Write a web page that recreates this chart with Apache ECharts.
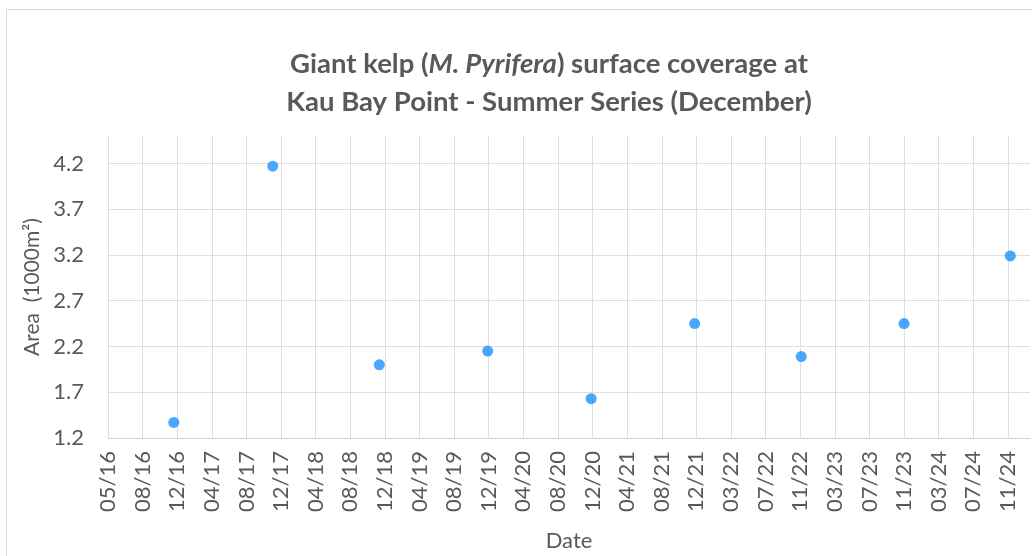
<!DOCTYPE html>
<html>
<head>
<meta charset="utf-8">
<title>Giant kelp surface coverage</title>
<script src="https://cdn.jsdelivr.net/npm/echarts@6/dist/echarts.min.js"></script>
<style>
  html, body { margin: 0; padding: 0; background: #fff; }
  #chart { width: 1032px; height: 556px; }
</style>
</head>
<body>
<div id="chart"></div>
<script>
// tick labels of the date axis (one per gridline)
const tickLabels = [
  '05/16', '08/16', '12/16', '04/17', '08/17', '12/17', '04/18', '08/18', '12/18',
  '04/19', '08/19', '12/19', '04/20', '08/20', '12/20', '04/21', '08/21', '12/21',
  '03/22', '07/22', '11/22', '03/23', '07/23', '11/23', '03/24', '07/24', '11/24'
];
// survey position along the date axis, in tick steps from 05/16
const samplePos = [1.9, 4.76, 7.84, 10.97, 13.96, 16.95, 20.03, 23.0, 26.07];
// area in 1000 m2
const sampleArea = [1.37, 4.17, 2.0, 2.15, 1.63, 2.45, 2.09, 2.45, 3.19];

const yTicks = { min: 1.2, max: 4.5, step: 0.5 };
const xMax = 26.64;

const textGrey = '#595959';
const gridGrey = '#dedede';
const font = 'Lato';

const chart = echarts.init(document.getElementById('chart'), null, { renderer: 'canvas' });

const option = {
  animation: false,
  backgroundColor: '#fff',
  graphic: [{
    type: 'rect',
    shape: { x: 6.5, y: 9.5, width: 1200, height: 800 },
    style: { fill: 'none', stroke: '#d9d9d9', lineWidth: 1 },
    silent: true
  }],
  title: {
    left: 544,
    top: 40,
    textAlign: 'center',
    text: '{b|Giant kelp (}{i|M. Pyrifera}{b|) surface coverage at}\n{b|Kau Bay Point - Summer Series (December)}',
    textStyle: {
      rich: {
        b: { fontFamily: font, fontSize: 27.5, fontWeight: 'bold', color: textGrey, lineHeight: 38 },
        i: { fontFamily: font, fontSize: 27.5, fontWeight: 'bold', fontStyle: 'italic', color: textGrey, lineHeight: 38 }
      }
    }
  },
  grid: {
    left: 108,
    right: 2,
    top: 136,
    bottom: 118,
    containLabel: false,
    outerBoundsMode: 'none'
  },
  xAxis: {
    type: 'value',
    min: 0,
    max: xMax,
    interval: 1,
    name: 'Date',
    nameLocation: 'middle',
    nameGap: 92,
    nameTextStyle: { fontFamily: font, fontSize: 22, color: textGrey },
    axisLine: { show: true, lineStyle: { color: '#d4d4d4', width: 1 } },
    axisTick: { show: false },
    axisLabel: {
      rotate: 90,
      margin: 13,
      fontFamily: font,
      fontSize: 22,
      color: textGrey,
      showMaxLabel: false,
      formatter: v => tickLabels[Math.round(v)] || ''
    },
    splitLine: { show: true, showMaxLine: false, lineStyle: { color: gridGrey, width: 1 } }
  },
  yAxis: {
    type: 'value',
    min: yTicks.min,
    max: yTicks.max,
    interval: yTicks.step,
    name: 'Area  (1000m²)',
    nameLocation: 'middle',
    nameGap: 59,
    nameTextStyle: { fontFamily: font, fontSize: 21, color: textGrey },
    axisLine: { show: false },
    axisTick: { show: false },
    axisLabel: {
      margin: 24,
      fontFamily: font,
      fontSize: 22,
      color: textGrey,
      showMaxLabel: false,
      formatter: v => v.toFixed(1)
    },
    splitLine: { show: true, showMaxLine: false, lineStyle: { color: gridGrey, width: 1 } }
  },
  series: [{
    type: 'scatter',
    symbol: 'circle',
    symbolSize: 11,
    itemStyle: { color: '#1E90FF' },
    data: samplePos.map((x, i) => [x, sampleArea[i]])
  }]
};

chart.setOption(option);
</script>
</body>
</html>
